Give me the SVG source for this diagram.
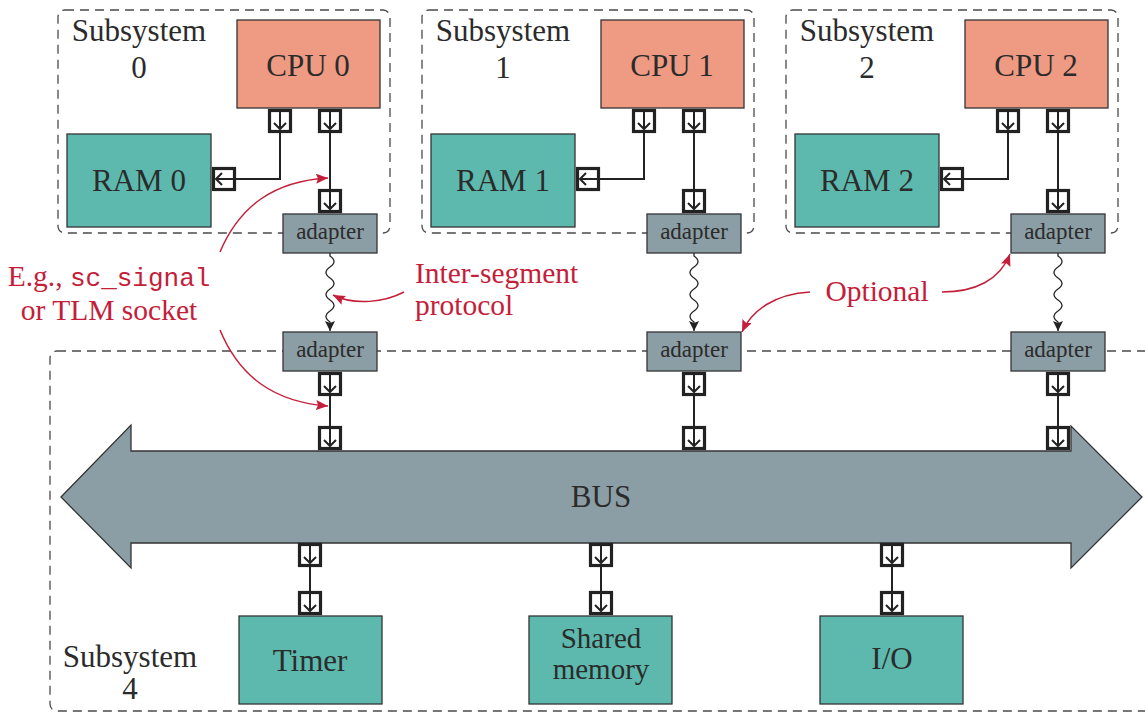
<svg xmlns="http://www.w3.org/2000/svg" xmlns:xlink="http://www.w3.org/1999/xlink" width="1145" height="713" viewBox="0 0 1145 713">
<style>
text{font-family:'Liberation Serif','DejaVu Serif',serif}
.t{fill:#2b2b2b;font-size:31px;text-anchor:middle}
.s{font-size:23px}
.sm{font-size:29px}
.r{fill:#c41e3a;font-size:29.5px}
.l{text-anchor:start}
.mono{font-family:'Liberation Mono','DejaVu Sans Mono',monospace;font-size:26px}
.dash{fill:none;stroke:#4a4a4a;stroke-width:1.3;stroke-dasharray:9 6}
.cpu{fill:#ef9a82;stroke:#333;stroke-width:1.3}
.mem{fill:#5db9ae;stroke:#333;stroke-width:1.3}
.ad{fill:#8c9ea5;stroke:#333;stroke-width:1.3}
.w{fill:none;stroke:#222;stroke-width:2}
.wv{fill:none;stroke:#222;stroke-width:1.3}
.ra{fill:none;stroke:#c41e3a;stroke-width:1.5}
</style>
<defs>
<g id="pd"><rect x="-10.5" y="-10.5" width="21" height="21" fill="#fff" stroke="#222" stroke-width="3.2"/><path d="M0,-10.5 V8 M-6,2 L0,8 L6,2" fill="none" stroke="#222" stroke-width="2"/></g>
<marker id="ab" markerUnits="userSpaceOnUse" markerWidth="12" markerHeight="12" refX="10" refY="5" orient="auto"><path d="M0,0 L10,5 L0,10 L2,5 z" fill="#222"/></marker>
<marker id="ar" markerUnits="userSpaceOnUse" markerWidth="14" markerHeight="12" refX="12" refY="5" orient="auto"><path d="M0,0 L12,5 L0,10 L2,5 z" fill="#c41e3a"/></marker>
</defs>
<rect width="1145" height="713" fill="#fff"/>
<g font-family="Liberation Serif, serif">
<g id="subsystem4">
<rect class="dash" x="50" y="351" width="1200" height="360" rx="7"/>
<text class="t" x="130" y="667">Subsystem</text>
<text class="t" x="130" y="699">4</text>
</g>
<g id="subsystem0">
<rect class="dash" x="58" y="10" width="332" height="223" rx="7"/>
<text class="t" x="139" y="41">Subsystem</text>
<text class="t" x="139" y="78">0</text>
</g>
<g id="subsystem1">
<rect class="dash" x="422" y="10" width="332" height="223" rx="7"/>
<text class="t" x="503" y="41">Subsystem</text>
<text class="t" x="503" y="78">1</text>
</g>
<g id="subsystem2">
<rect class="dash" x="786" y="10" width="332" height="223" rx="7"/>
<text class="t" x="867" y="41">Subsystem</text>
<text class="t" x="867" y="78">2</text>
</g>

<g id="connectors">
<path class="w" d="M280,121 V179 H224 M330,121 V201"/>
<path class="w" d="M644,121 V179 H588 M694,121 V201"/>
<path class="w" d="M1008,121 V179 H952 M1058,121 V201"/>
<path class="w" d="M330,384 V438 M694,384 V438 M1058,384 V438"/>
<path class="w" d="M310,555 V603 M601,555 V603 M892,555 V603"/>
<path class="wv" marker-end="url(#ab)" d="M330,253 V256 Q338,261.5 330,267 Q322,272.5 330,278 Q338,283.5 330,289 Q322,294.5 330,300 Q338,305.5 330,311 Q322,316.5 330,322 V331"/>
<path class="wv" marker-end="url(#ab)" d="M694,253 V256 Q702,261.5 694,267 Q686,272.5 694,278 Q702,283.5 694,289 Q686,294.5 694,300 Q702,305.5 694,311 Q686,316.5 694,322 V331"/>
<path class="wv" marker-end="url(#ab)" d="M1058,253 V256 Q1066,261.5 1058,267 Q1050,272.5 1058,278 Q1066,283.5 1058,289 Q1050,294.5 1058,300 Q1066,305.5 1058,311 Q1050,316.5 1058,322 V331"/>
</g>

<g id="cpu0"><rect class="cpu" x="237" y="20" width="143" height="88"/><text class="t" x="308" y="76">CPU 0</text>
<use xlink:href="#pd" x="280" y="121"/><use xlink:href="#pd" x="330" y="121"/></g>
<g id="cpu1"><rect class="cpu" x="601" y="20" width="143" height="88"/><text class="t" x="672" y="76">CPU 1</text>
<use xlink:href="#pd" x="644" y="121"/><use xlink:href="#pd" x="694" y="121"/></g>
<g id="cpu2"><rect class="cpu" x="965" y="20" width="143" height="88"/><text class="t" x="1036" y="76">CPU 2</text>
<use xlink:href="#pd" x="1008" y="121"/><use xlink:href="#pd" x="1058" y="121"/></g>

<g id="ram0"><rect class="mem" x="67" y="134" width="144" height="93"/><text class="t" x="139" y="191">RAM 0</text>
<use xlink:href="#pd" transform="translate(224,179) rotate(90)"/></g>
<g id="ram1"><rect class="mem" x="431" y="134" width="144" height="93"/><text class="t" x="503" y="191">RAM 1</text>
<use xlink:href="#pd" transform="translate(588,179) rotate(90)"/></g>
<g id="ram2"><rect class="mem" x="795" y="134" width="144" height="93"/><text class="t" x="867" y="191">RAM 2</text>
<use xlink:href="#pd" transform="translate(952,179) rotate(90)"/></g>

<g id="adapter0top"><rect class="ad" x="283" y="214" width="94" height="39"/><text class="t s" x="330" y="239">adapter</text><use xlink:href="#pd" x="330" y="201"/></g>
<g id="adapter1top"><rect class="ad" x="647" y="214" width="94" height="39"/><text class="t s" x="694" y="239">adapter</text><use xlink:href="#pd" x="694" y="201"/></g>
<g id="adapter2top"><rect class="ad" x="1011" y="214" width="94" height="39"/><text class="t s" x="1058" y="239">adapter</text><use xlink:href="#pd" x="1058" y="201"/></g>

<g id="adapter0bot"><rect class="ad" x="283" y="332" width="94" height="39"/><text class="t s" x="330" y="357">adapter</text><use xlink:href="#pd" x="330" y="384"/></g>
<g id="adapter1bot"><rect class="ad" x="647" y="332" width="94" height="39"/><text class="t s" x="694" y="357">adapter</text><use xlink:href="#pd" x="694" y="384"/></g>
<g id="adapter2bot"><rect class="ad" x="1011" y="332" width="94" height="39"/><text class="t s" x="1058" y="357">adapter</text><use xlink:href="#pd" x="1058" y="384"/></g>

<g id="bus">
<path class="ad" d="M61,497 L131,425 L131,451 L1071,451 L1071,426 L1142,497 L1071,568 L1071,543 L131,543 L131,568 Z"/>
<text class="t" x="601" y="507">BUS</text>
<use xlink:href="#pd" x="330" y="438"/><use xlink:href="#pd" x="694" y="438"/><use xlink:href="#pd" x="1058" y="438"/>
<use xlink:href="#pd" x="310" y="555"/><use xlink:href="#pd" x="601" y="555"/><use xlink:href="#pd" x="892" y="555"/>
</g>

<g id="timer"><rect class="mem" x="239" y="616" width="143" height="88"/><text class="t" x="310" y="671">Timer</text><use xlink:href="#pd" x="310" y="603"/></g>
<g id="sharedmem"><rect class="mem" x="529" y="616" width="143" height="88"/><text class="t sm" x="601" y="648">Shared</text><text class="t sm" x="601" y="679">memory</text><use xlink:href="#pd" x="601" y="603"/></g>
<g id="io"><rect class="mem" x="820" y="616" width="143" height="88"/><text class="t" x="892" y="669">I/O</text><use xlink:href="#pd" x="892" y="603"/></g>

<g id="annotations">
<path class="ra" marker-end="url(#ar)" d="M220,252 C240,205 275,181 328,178"/>
<path class="ra" marker-end="url(#ar)" d="M220,330 C240,378 275,402 328,406"/>
<path class="ra" marker-end="url(#ar)" d="M404,292 C385,302 355,306 333,295"/>
<path class="ra" marker-end="url(#ar)" d="M810,292 C775,294 752,310 742,332"/>
<path class="ra" marker-end="url(#ar)" d="M942,292 C975,292 1000,280 1010,254"/>
<text class="t r" x="109" y="286">E.g., <tspan class="mono">sc_signal</tspan></text>
<text class="t r" x="109" y="320">or TLM socket</text>
<text class="t r l" x="415" y="283">Inter-segment</text>
<text class="t r l" x="415" y="315">protocol</text>
<text class="t r" x="877" y="301">Optional</text>
</g>
</g>
</svg>
